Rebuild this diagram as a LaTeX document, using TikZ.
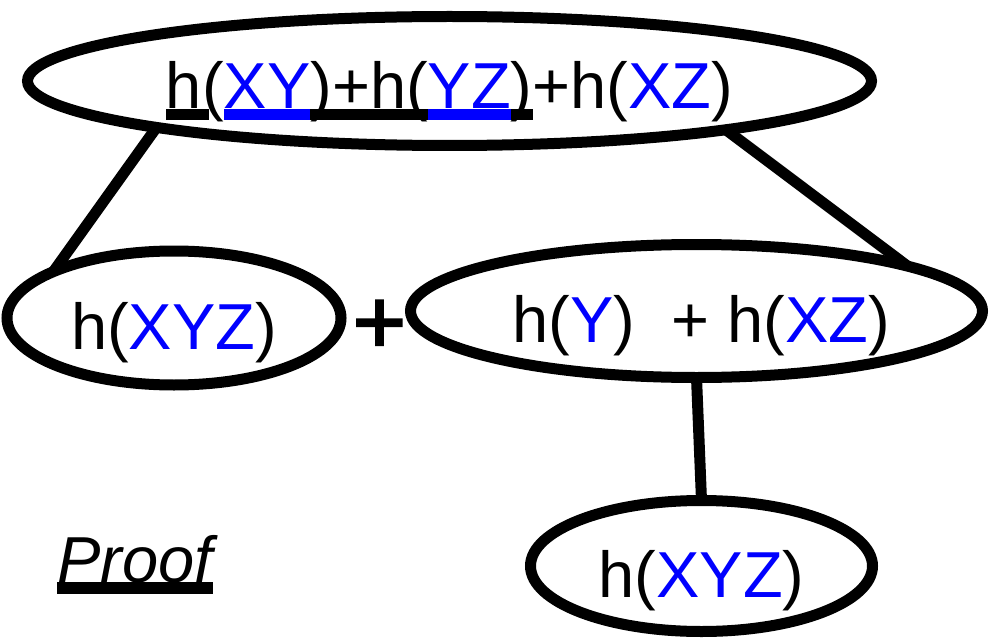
\documentclass[tikz,border=0pt]{standalone}
\usepackage{fontspec}
\setmainfont{Liberation Sans}
\newfontfamily\plusfont[FakeBold=2.5]{Liberation Sans}
\usetikzlibrary{shapes.geometric}
\definecolor{varblue}{RGB}{0,0,255}

% thick underline drawn behind a piece of text, optionally widened
\newsavebox\ulbox
\newcommand\ulseg[3][0pt]{\sbox\ulbox{#3}\rlap{\textcolor{#2}{\rule[-11.5pt]{\dimexpr\wd\ulbox+#1\relax}{11.5pt}}}\usebox\ulbox}
\newcommand\var[1]{\textcolor{varblue}{#1}}

\begin{document}
\begin{tikzpicture}[x=1pt,y=-1pt,
  bubble/.style={draw, ellipse, line width=11pt, inner sep=0pt, outer sep=0pt,
    font=\fontsize{65}{70}\selectfont, text depth=0pt, text height=62pt},
  link/.style={line width=11pt}]
\useasboundingbox (0,0) rectangle (990,639);

\node[bubble, minimum width=844pt, minimum height=129pt, text height=56pt] (sum) at (449.5,81)
  {\ulseg[7pt]{black}{h}(\ulseg{varblue}{\var{XY}}\ulseg{black}{)+h(}\ulseg{varblue}{\var{YZ}}\ulseg{black}{)}+h(\var{XZ})};
\node[bubble, minimum width=334pt, minimum height=134pt] (joint) at (174,318) {h(\var{XYZ})};
\node[bubble, minimum width=572pt, minimum height=133pt] (split) at (696.5,311) {\hspace*{10pt}h(\var{Y})\ \ + h(\var{XZ})};
\node[bubble, minimum width=342pt, minimum height=131pt] (again) at (701.5,566) {h(\var{XYZ})};

\node[anchor=base, inner sep=0pt, font=\fontsize{91}{100}\plusfont] (plus) at (379.5,353) {+};
\node[anchor=base west, inner sep=0pt, font=\fontsize{65}{70}\selectfont\itshape] (proof) at (57,582) {\ulseg{black}{Proof}};

\draw[link] (sum.189) -- (joint.159.4);
\draw[link] (sum.350.9) -- (split.12.1);
\draw[link] (split.south) -- (again.north);
\end{tikzpicture}
\end{document}
